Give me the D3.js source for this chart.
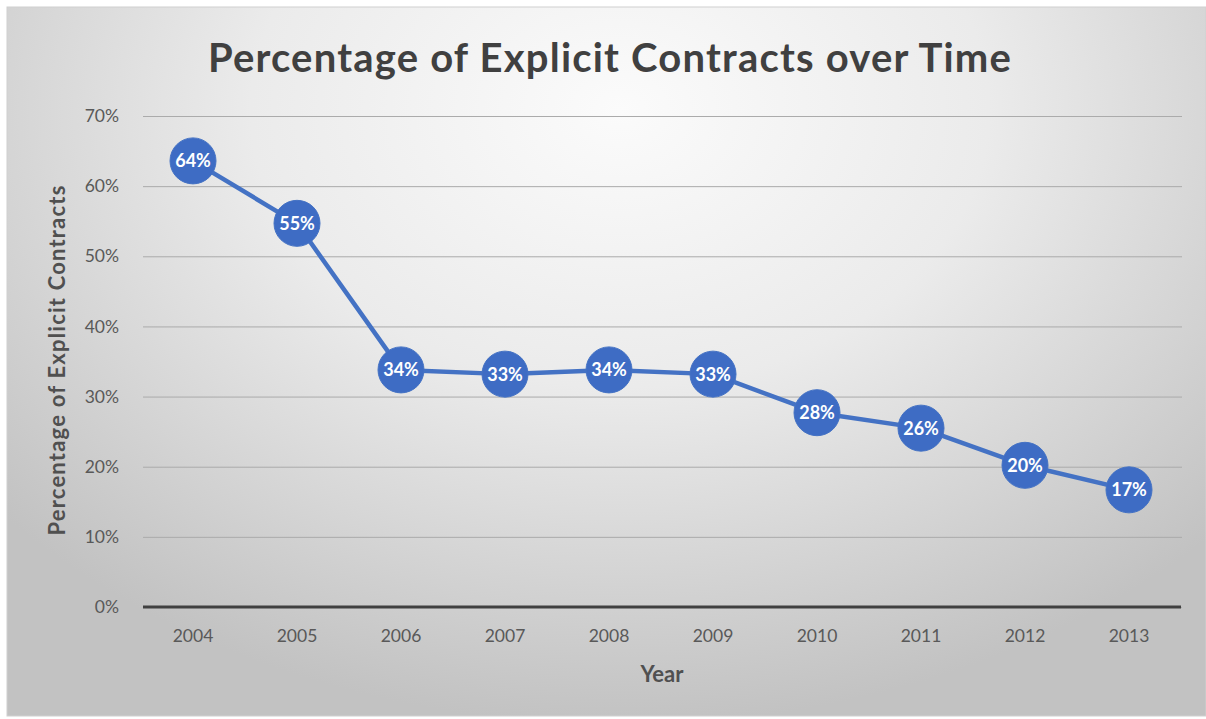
<!DOCTYPE html>
<html><head><meta charset="utf-8">
<script src="https://cdn.jsdelivr.net/npm/d3@7"></script>
<style>html,body{margin:0;padding:0;background:#fff;}svg{display:block;}</style>
</head><body>
<script>
const years = ["2004","2005","2006","2007","2008","2009","2010","2011","2012","2013"];
const values = [0.636, 0.547, 0.338, 0.332, 0.338, 0.332, 0.277, 0.255, 0.202, 0.167];
const labels = ["64%","55%","34%","33%","34%","33%","28%","26%","20%","17%"];
const yTicks = [0,0.1,0.2,0.3,0.4,0.5,0.6,0.7];
const title = "Percentage of Explicit Contracts over Time";
const xTitle = "Year";
const yTitle = "Percentage of Explicit Contracts";

const W = 1206, H = 719;
const font = "Lato, 'Open Sans', 'Liberation Sans', sans-serif";
const svg = d3.select("body").append("svg").attr("width", W).attr("height", H);
const defs = svg.append("defs");
const rg = defs.append("radialGradient").attr("id","bg")
  .attr("gradientUnits","userSpaceOnUse").attr("cx",620).attr("cy",110).attr("r",820)
  .attr("gradientTransform","translate(620,110) scale(1,0.75) translate(-620,-110)");
rg.append("stop").attr("offset","0").attr("stop-color","#fbfbfb");
rg.append("stop").attr("offset","0.45").attr("stop-color","#ebebeb");
rg.append("stop").attr("offset","1").attr("stop-color","#c2c2c2");

svg.append("rect").attr("x",7).attr("y",7).attr("width",W-7).attr("height",H-10)
  .attr("fill","url(#bg)").attr("stroke","#d0d0d0").attr("stroke-width",1);

const x = d3.scaleBand().domain(years).range([141,1181]);
const y = d3.scaleLinear().domain([0,0.7]).range([607,116]);

// gridlines
const grid = svg.append("g").attr("transform","translate(143,0)")
  .call(d3.axisLeft(y).tickValues(yTicks).tickSize(-1039).tickFormat(""));
grid.select(".domain").remove();
grid.selectAll("line").attr("stroke","#ababab").attr("stroke-width",1);

// y labels
const yAx = svg.append("g").attr("transform","translate(122,0)")
  .call(d3.axisLeft(y).tickValues(yTicks).tickSize(0).tickFormat(d3.format(".0%")));
yAx.select(".domain").remove();
yAx.selectAll("text").attr("font-family",font).attr("font-size",17.5).attr("fill","#595959");

// x axis
const xAx = svg.append("g").attr("transform","translate(0,607)")
  .call(d3.axisBottom(x).tickSize(0).tickSizeOuter(0));
xAx.select(".domain").attr("stroke","#404040").attr("stroke-width",3)
  .attr("d", `M${x.range()[0]+2},0H${x.range()[1]}`);
xAx.selectAll("text").attr("font-family",font).attr("font-size",17.5).attr("fill","#595959").attr("dy","1.85em");

// line
const cx = d => x(d) + x.bandwidth()/2;
const data = years.map((yr,i)=>({yr, v: values[i], l: labels[i]}));
svg.append("path").datum(data)
  .attr("d", d3.line().x(d=>cx(d.yr)).y(d=>y(d.v)))
  .attr("fill","none").attr("stroke","#4472c4").attr("stroke-width",4.5).attr("stroke-linejoin","round");

const pts = svg.append("g").selectAll("g").data(data).join("g")
  .attr("transform", d=>`translate(${cx(d.yr)},${y(d.v)})`);
pts.append("circle").attr("r",23).attr("fill","#3e6cc4").attr("stroke","#4472c4").attr("stroke-width",1);
pts.append("text").text(d=>d.l).attr("text-anchor","middle").attr("dy","0.36em")
  .attr("font-family",font).attr("font-weight","bold").attr("font-size",18).attr("fill","#ffffff");

// titles
svg.append("text").attr("x",610).attr("y",72).attr("text-anchor","middle")
  .attr("font-family",font).attr("font-weight","bold").attr("font-size",40).attr("letter-spacing",1.2)
  .attr("fill","#404040").text(title);
svg.append("text").attr("x",662).attr("y",682).attr("text-anchor","middle")
  .attr("font-family",font).attr("font-weight","bold").attr("font-size",22).attr("fill","#505050").text(xTitle);
svg.append("text").attr("transform","translate(65,360) rotate(-90)").attr("text-anchor","middle")
  .attr("font-family",font).attr("font-weight","bold").attr("font-size",22).attr("letter-spacing",1.2)
  .attr("fill","#505050").text(yTitle);
</script>
</body></html>
